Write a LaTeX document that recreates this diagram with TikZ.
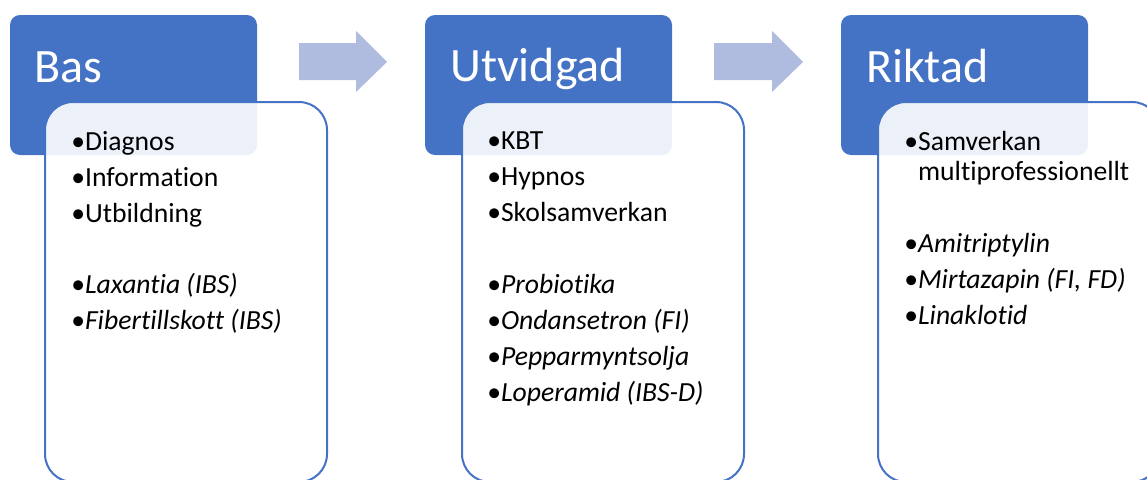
\documentclass[tikz,border=0pt]{standalone}
\usepackage{fontspec}
\setmainfont{Carlito}[Ligatures=NoCommon]
\definecolor{hdr}{RGB}{68,114,196}
\definecolor{arr}{RGB}{175,188,223}
\begin{document}
\begin{tikzpicture}[x=0.75pt,y=-0.75pt,
  hdrbox/.style={shape=rectangle, fill=hdr, rounded corners=7.5pt, anchor=north west,
    minimum width=185.25pt, minimum height=105pt, inner sep=0pt, outer sep=0pt},
  bodybox/.style={shape=rectangle, draw=hdr, line width=1.5pt, fill=white, fill opacity=0.9,
    rounded corners=21pt, anchor=north west, minimum width=211.5pt, minimum height=285pt,
    inner sep=0pt, outer sep=0pt},
  hdrtext/.style={anchor=base west, inner sep=0pt, text=white, font=\fontsize{36}{43}\selectfont},
  item/.style={anchor=base west, inner sep=0pt, font=\fontsize{20.75}{25}\selectfont},
  blockarrow/.style={fill=arr}]
\useasboundingbox (0,0) rectangle (1147,479);
% block arrows
\fill[blockarrow] (299,43) -- (356,43) -- (356,31) -- (387,62) -- (356,92) -- (356,80) -- (299,80) -- cycle;
\fill[blockarrow] (714,43) -- (772,43) -- (772,31) -- (803,62) -- (772,92) -- (772,80) -- (714,80) -- cycle;
% headers
\node[hdrbox] (h1) at (10,15) {};
\node[hdrbox] (h2) at (425,15) {};
\node[hdrbox] (h3) at (841,15) {};
% bodies
\node[bodybox] (b1) at (45,102) {};
\node[bodybox] (b2) at (462,102) {};
\node[bodybox] (b3) at (878,102) {};
% header texts
\node[hdrtext] (t1) at (34,82) {Bas};
\node[hdrtext] (t2) at (450,81) {Utvidgad};
\node[hdrtext] (t3) at (866,82) {Riktad};
% body 1
\node[item] (a1) at (71,150) {•Diagnos};
\node[item] (a2) at (71,186) {•Information};
\node[item] (a3) at (71,222) {•Utbildning};
\node[item] (a4) at (71,293) {•\textit{Laxantia (IBS)}};
\node[item] (a5) at (71,329) {•\textit{Fibertillskott (IBS)}};
% body 2
\node[item] (c1) at (487,149) {•KBT};
\node[item] (c2) at (487,185) {•Hypnos};
\node[item] (c3) at (487,221) {•Skolsamverkan};
\node[item] (c4) at (487,293) {•\textit{Probiotika}};
\node[item] (c5) at (487,329) {•\textit{Ondansetron (FI)}};
\node[item] (c6) at (487,365) {•\textit{Pepparmyntsolja}};
\node[item] (c7) at (487,401) {•\textit{Loperamid (IBS-D)}};
% body 3
\node[item] (d1) at (904,150) {•Samverkan};
\node[item] (d2) at (904,180) {\phantom{•}multiprofessionellt};
\node[item] (d3) at (904,252) {•\textit{Amitriptylin}};
\node[item] (d4) at (904,288) {•\textit{Mirtazapin (FI, FD)}};
\node[item] (d5) at (904,324) {•\textit{Linaklotid}};
\end{tikzpicture}
\end{document}
